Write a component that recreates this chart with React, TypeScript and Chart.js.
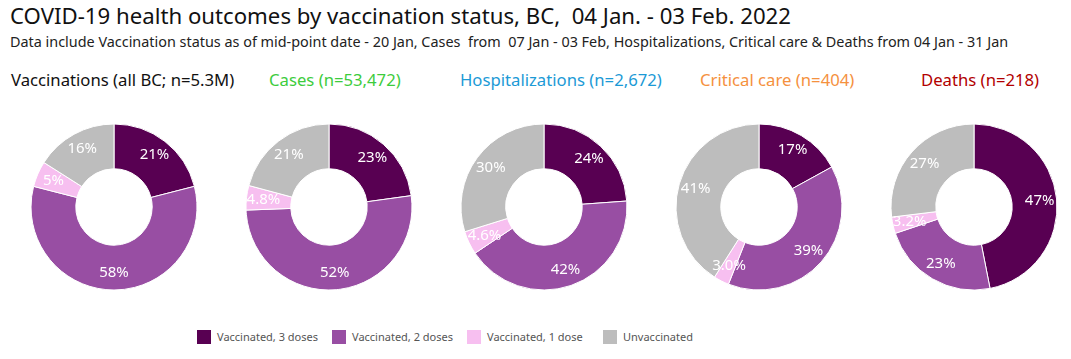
import React, { useEffect, useRef } from "react";
import { Chart, registerables } from "chart.js";

Chart.register(...registerables);

const categories = ["Vaccinated, 3 doses", "Vaccinated, 2 doses", "Vaccinated, 1 dose", "Unvaccinated"];
const colors = ["#580052", "#984ea3", "#f7bff0", "#bdbdbd"];

const panelTitles = [
  "Vaccinations (all BC; n=5.3M)",
  "Cases (n=53,472)",
  "Hospitalizations (n=2,672)",
  "Critical care (n=404)",
  "Deaths (n=218)",
];
const panelTitleColors = ["#111111", "#3dcc3d", "#1c9ad6", "#f5913e", "#b20000"];

const vaccinationsValues = [21, 58, 5, 16];
const casesValues = [23, 52, 4.8, 21];
const hospitalizationsValues = [24, 42, 4.6, 30];
const criticalCareValues = [17, 39, 3.0, 41];
const deathsValues = [47, 23, 3.2, 27];

const vaccinationsLabels = ["21%", "58%", "5%", "16%"];
const casesLabels = ["23%", "52%", "4.8%", "21%"];
const hospitalizationsLabels = ["24%", "42%", "4.6%", "30%"];
const criticalCareLabels = ["17%", "39%", "3.0%", "41%"];
const deathsLabels = ["47%", "23%", "3.2%", "27%"];

const allValues = [vaccinationsValues, casesValues, hospitalizationsValues, criticalCareValues, deathsValues];
const allLabels = [vaccinationsLabels, casesLabels, hospitalizationsLabels, criticalCareLabels, deathsLabels];

const FONT = "'Noto Sans', sans-serif";
const CANVAS = 190;

const labelPlugin = {
  id: "sliceLabels",
  afterDatasetsDraw(chart: any) {
    const meta = chart.getDatasetMeta(0);
    const labels: string[] = chart.options.plugins.sliceLabels.labels;
    const ctx = chart.ctx;
    ctx.save();
    ctx.fillStyle = "#ffffff";
    ctx.font = `15px ${FONT}`;
    ctx.textAlign = "center";
    ctx.textBaseline = "middle";
    meta.data.forEach((arc: any, i: number) => {
      const p = arc.getProps(["x", "y", "startAngle", "endAngle", "innerRadius", "outerRadius"], true);
      const mid = (p.startAngle + p.endAngle) / 2;
      const r = p.innerRadius + (p.outerRadius - p.innerRadius) * 0.62;
      ctx.fillText(labels[i], p.x + Math.cos(mid) * r, p.y + Math.sin(mid) * r);
    });
    ctx.restore();
  },
};

function Donut({ values, labels }: { values: number[]; labels: string[] }) {
  const ref = useRef<HTMLCanvasElement>(null);
  useEffect(() => {
    const chart = new Chart(ref.current as HTMLCanvasElement, {
      type: "doughnut",
      data: {
        labels: categories,
        datasets: [
          {
            data: values,
            backgroundColor: colors,
            borderColor: "#ffffff",
            borderWidth: 1,
          },
        ],
      },
      options: {
        animation: false,
        responsive: false,
        radius: 83,
        cutout: 43.5,
        layout: { padding: 0 },
        plugins: {
          legend: { display: false },
          tooltip: { enabled: false },
          sliceLabels: { labels },
        } as any,
      } as any,
      plugins: [labelPlugin],
    });
    return () => chart.destroy();
  }, [values, labels]);
  return <canvas ref={ref} width={CANVAS} height={CANVAS} style={{ width: CANVAS, height: CANVAS, display: "block" }} />;
}

const centersX = [113.5, 328.5, 543.5, 758.5, 973.5];
const centerY = 206.5;
const headerLeft = [11, 269, 460, 700, 921];
const legendLeft = [197, 332, 467, 603];

export default function App() {
  return (
    <div
      style={{
        position: "absolute",
        left: 0,
        top: 0,
        width: 1071,
        height: 359,
        background: "#ffffff",
        fontFamily: FONT,
        overflow: "hidden",
      }}
    >
      <div style={{ position: "absolute", left: 10, top: 2, fontSize: 22.2, lineHeight: "28px", color: "#111", whiteSpace: "nowrap" }}>
        COVID-19 health outcomes by vaccination status, BC,&nbsp; 04 Jan. - 03 Feb. 2022
      </div>
      <div style={{ position: "absolute", left: 10, top: 32, fontSize: 14.4, lineHeight: "20px", color: "#222", whiteSpace: "nowrap" }}>
        Data include Vaccination status as of mid-point date - 20 Jan, Cases&nbsp; from&nbsp; 07 Jan - 03 Feb, Hospitalizations, Critical care &amp; Deaths from 04 Jan - 31 Jan
      </div>
      {panelTitles.map((t, i) => (
        <div
          key={t}
          style={{ position: "absolute", left: headerLeft[i], top: 68, fontSize: 16.7, lineHeight: "24px", color: panelTitleColors[i], whiteSpace: "nowrap" }}
        >
          {t}
        </div>
      ))}
      {allValues.map((v, i) => (
        <div key={i} style={{ position: "absolute", left: centersX[i] - CANVAS / 2, top: centerY - CANVAS / 2 }}>
          <Donut values={v} labels={allLabels[i]} />
        </div>
      ))}
      {categories.map((c, i) => (
        <div key={c} style={{ position: "absolute", left: legendLeft[i], top: 329, display: "flex", alignItems: "center", whiteSpace: "nowrap" }}>
          <div style={{ width: 14, height: 14, background: colors[i], marginRight: 6 }} />
          <span style={{ fontSize: 11, lineHeight: "16px", color: "#555" }}>{c}</span>
        </div>
      ))}
    </div>
  );
}
